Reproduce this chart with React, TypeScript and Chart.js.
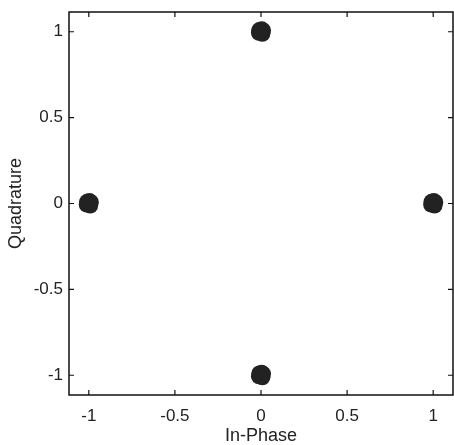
import React, { useEffect, useRef } from "react";
import { Chart, registerables } from "chart.js";

Chart.register(...registerables);

const inPhase = [
  1.0, 1.012, 0.99, 1.008, 0.988, 1.004,
  0.0, 0.012, -0.01, 0.008, -0.012, 0.004,
  -1.0, -0.988, -1.01, -0.992, -1.012, -0.996,
  0.0, 0.012, -0.01, 0.008, -0.012, 0.004,
];
const quadrature = [
  0.0, 0.008, 0.01, -0.012, -0.006, 0.014,
  1.0, 1.008, 1.01, 0.988, 0.994, 1.014,
  0.0, 0.008, 0.01, -0.012, -0.006, 0.014,
  -1.0, -0.992, -0.99, -1.012, -1.006, -0.986,
];
const tickValues = [-1, -0.5, 0, 0.5, 1];
const axisMin = -1.115;
const axisMax = 1.115;
const xTitle = "In-Phase";
const yTitle = "Quadrature";

const boxPlugin = {
  id: "boxTicks",
  afterDraw(chart: any) {
    const { ctx, chartArea } = chart;
    const { left, right, top, bottom } = chartArea;
    const xs = chart.scales.x;
    const ys = chart.scales.y;
    const tl = 5;
    ctx.save();
    ctx.strokeStyle = "#111";
    ctx.lineWidth = 1.5;
    ctx.strokeRect(left, top, right - left, bottom - top);
    ctx.lineWidth = 1.2;
    ctx.beginPath();
    tickValues.forEach((v) => {
      const px = xs.getPixelForValue(v);
      ctx.moveTo(px, bottom);
      ctx.lineTo(px, bottom - tl);
      ctx.moveTo(px, top);
      ctx.lineTo(px, top + tl);
      const py = ys.getPixelForValue(v);
      ctx.moveTo(left, py);
      ctx.lineTo(left + tl, py);
      ctx.moveTo(right, py);
      ctx.lineTo(right - tl, py);
    });
    ctx.stroke();
    ctx.restore();
  },
};

export default function App() {
  const ref = useRef<HTMLCanvasElement | null>(null);
  useEffect(() => {
    document.body.style.margin = "0";
    const canvas = ref.current!;
    const font = { family: "'Liberation Sans', Arial, sans-serif", size: 17 };
    const chart = new Chart(canvas, {
      type: "scatter",
      data: {
        datasets: [
          {
            data: inPhase.map((x, i) => ({ x, y: quadrature[i] })),
            backgroundColor: "#222",
            borderWidth: 0,
            pointRadius: 8,
          },
        ],
      },
      options: {
        animation: false,
        responsive: false,
        layout: { autoPadding: false, padding: { top: 12, right: 1, left: 0, bottom: 0 } },
        plugins: { legend: { display: false }, tooltip: { enabled: false } },
        scales: {
          x: {
            type: "linear",
            min: axisMin,
            max: axisMax,
            grid: { display: false, drawTicks: false },
            border: { display: false },
            afterBuildTicks: (s: any) => {
              s.ticks = tickValues.map((v) => ({ value: v }));
            },
            afterFit: (s: any) => {
              s.height = 50;
              s.paddingLeft = 0;
              s.paddingRight = 0;
            },
            ticks: {
              color: "#222",
              font,
              padding: 11,
              maxRotation: 0,
              callback: (v: any) => String(v),
            },
            title: {
              display: true,
              text: xTitle,
              color: "#222",
              font: { ...font, size: 18, lineHeight: 1 },
              padding: 0,
            },
          },
          y: {
            type: "linear",
            min: axisMin,
            max: axisMax,
            grid: { display: false, drawTicks: false },
            border: { display: false },
            afterBuildTicks: (s: any) => {
              s.ticks = tickValues.map((v) => ({ value: v }));
            },
            afterFit: (s: any) => {
              s.width = 69;
              s.paddingTop = 0;
              s.paddingBottom = 0;
            },
            ticks: {
              color: "#222",
              font,
              padding: 6,
              callback: (v: any) => String(v),
            },
            title: {
              display: true,
              text: yTitle,
              color: "#222",
              font: { ...font, size: 18, lineHeight: 1 },
              padding: { top: 7, bottom: 0 },
            },
          },
        },
      },
      plugins: [boxPlugin],
    });
    return () => chart.destroy();
  }, []);
  return <canvas ref={ref} width={454} height={445} />;
}
